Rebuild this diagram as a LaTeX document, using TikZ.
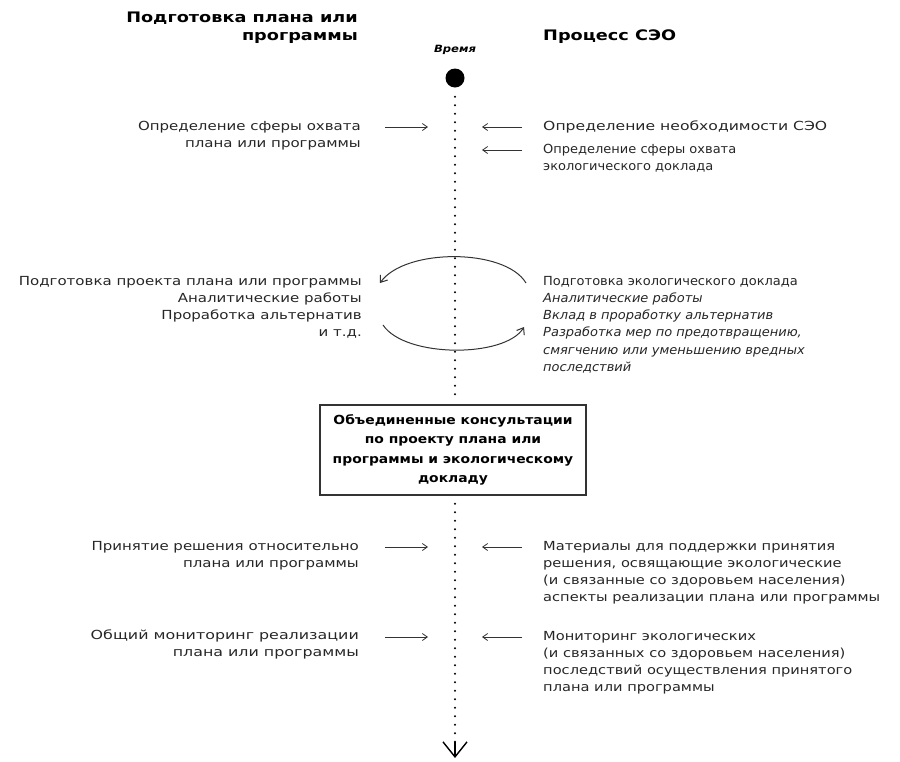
\documentclass[tikz,border=0pt]{standalone}
\usepackage{fontspec}
\setmainfont{DejaVu Sans}[FakeStretch=1.16]
\newfontfamily\lfam{DejaVu Sans}[FakeStretch=1.2]
\newfontfamily\lfamw{DejaVu Sans}[FakeStretch=1.27]
\newfontfamily\rfam{DejaVu Sans}[FakeStretch=1.17]
\newfontfamily\rfamw{DejaVu Sans}[FakeStretch=1.25]
\newfontfamily\rfamn{DejaVu Sans}[FakeStretch=1.04]
\newfontfamily\bfam{DejaVu Sans}[FakeStretch=1.11]
\newfontfamily\tfam{DejaVu Sans}[FakeStretch=1.22]
\usetikzlibrary{arrows.meta}
\begin{document}
\begin{tikzpicture}[x=1pt,y=-1pt,
  txt/.style={font=\fontsize{12.5}{17}\selectfont, inner sep=0pt, text=black!85},
  lt/.style={txt, anchor=north east, align=right, font=\fontsize{12.5}{17}\selectfont\lfam},
  rt/.style={txt, anchor=north west, align=left, font=\fontsize{12.5}{17}\selectfont\rfam},
  ttl/.style={font=\fontsize{14.5}{18}\selectfont\tfam\bfseries, inner sep=0pt},
  arr/.style={-{Straight Barb[length=5pt,width=7pt]}, line width=0.8pt, black!80},
  carr/.style={-{Straight Barb[length=6pt,width=9pt]}, line width=1pt, black!80},
  timeline/.style={line width=2.2pt, dash pattern=on 0pt off 8.5pt, line cap=round},
  endtip/.style={-{Straight Barb[length=15pt,width=24pt,line width=1.4pt]}}
]
\useasboundingbox (0,0) rectangle (900,761);
% titles
\node[ttl, anchor=north east, align=right] (tl) at (358,12) {Подготовка плана или\\программы};
\node[ttl, anchor=north west] (tr) at (543,30) {Процесс СЭО};
\node[font=\fontsize{10}{12}\selectfont\bfseries\itshape, inner sep=0pt] (time) at (455,50) {Время};
\node[circle, fill=black, minimum size=19pt, inner sep=0pt] (dot) at (455,78) {};
% box
\node[draw=black!80, line width=1.3pt, minimum width=266pt, minimum height=90pt, align=center,
      font=\fontsize{12.5}{19.5}\selectfont\bfam\bfseries, inner sep=0pt] (box) at (453,450)
  {Объединенные консультации\\по проекту плана или\\программы и экологическому\\докладу};
% timeline
\coordinate (tend) at (455,758);
\draw[timeline] ([yshift=-9pt]dot.south) -- ([yshift=5pt]box.north -| dot);
\draw[timeline] ([yshift=-8pt]box.south -| dot) -- (455,744);
\draw[endtip, line width=1.4pt] (455,742) -- (tend);
% row 1
\node[lt] (l1) at (361,121) {Определение сферы охвата\\плана или программы};
\node[rt, font=\fontsize{12.5}{17}\selectfont\rfamw] (r1) at (543,121) {Определение необходимости СЭО};
\node[rt, font=\fontsize{12.5}{17}\selectfont\rfamn] (r2) at (543,144) {Определение сферы охвата\\экологического доклада};
\coordinate (l1a) at (385,127); \coordinate (l1b) at (428,127);
\coordinate (r1a) at (522,127); \coordinate (r1b) at (482,127);
\coordinate (r2a) at (522,150); \coordinate (r2b) at (482,150);
\draw[arr] (l1a) -- (l1b);
\draw[arr] (r1a) -- (r1b);
\draw[arr] (r2a) -- (r2b);
% row 2
\node[lt] (l2) at (362,276) {Подготовка проекта плана или программы\\Аналитические работы\\Проработка альтернатив\\и т.д.};
\node[rt, font=\fontsize{12.5}{17.2}\selectfont\rfamn] (r3) at (543,276) {Подготовка экологического доклада\\\itshape Аналитические работы\\\itshape Вклад в проработку альтернатив\\\itshape Разработка мер по предотвращению,\\\itshape смягчению или уменьшению вредных\\\itshape последствий};
\coordinate (c1) at (526,283); \coordinate (c2) at (380,283);
\coordinate (c3) at (383,325); \coordinate (c4) at (524,327);
\draw[carr] (c1) .. controls (505,248) and (405,248) .. (c2);
\draw[carr] (c3) .. controls (405,358) and (505,358) .. (c4);
% row 3
\node[lt] (l3) at (359,541) {Принятие решения относительно\\плана или программы};
\node[rt] (r4) at (543,541) {Материалы для поддержки принятия\\решения, освящающие экологические\\(и связанные со здоровьем населения)\\аспекты реализации плана или программы};
\coordinate (l3a) at (385,547); \coordinate (l3b) at (428,547);
\coordinate (r4a) at (522,547); \coordinate (r4b) at (482,547);
\draw[arr] (l3a) -- (l3b);
\draw[arr] (r4a) -- (r4b);
% row 4
\node[lt, font=\fontsize{12.5}{17}\selectfont\lfamw] (l4) at (359,630) {Общий мониторинг реализации\\плана или программы};
\node[rt] (r5) at (543,631) {Мониторинг экологических\\(и связанных со здоровьем населения)\\последствий осуществления принятого\\плана или программы};
\coordinate (l4a) at (385,637); \coordinate (l4b) at (428,637);
\coordinate (r5a) at (522,637); \coordinate (r5b) at (482,637);
\draw[arr] (l4a) -- (l4b);
\draw[arr] (r5a) -- (r5b);
\end{tikzpicture}
\end{document}
